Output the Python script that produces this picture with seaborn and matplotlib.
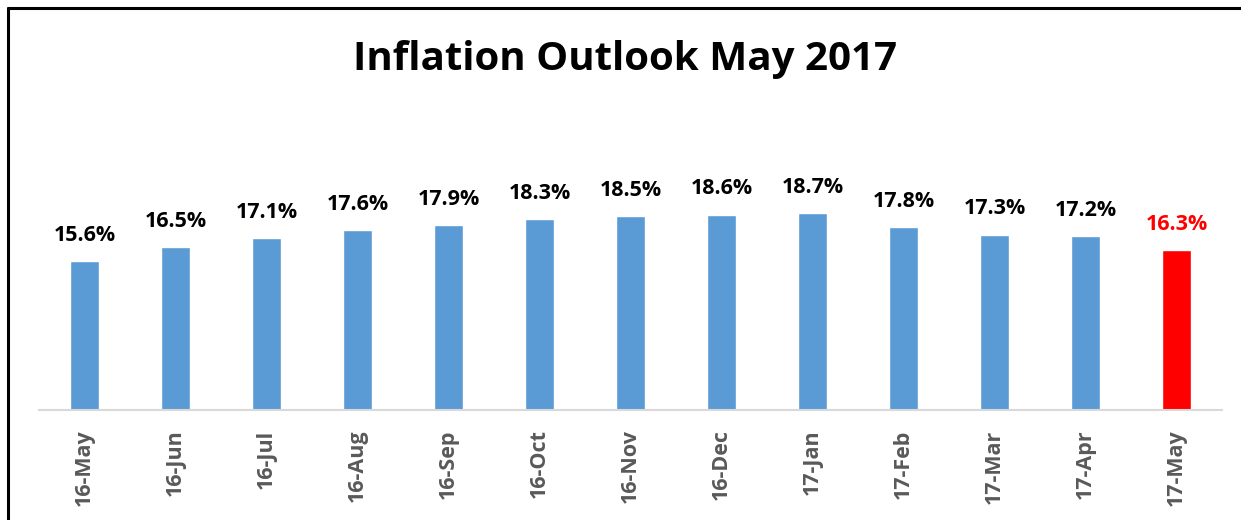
import pandas as pd
import matplotlib.pyplot as plt
import seaborn as sns
from matplotlib.lines import Line2D

months = ['16-May', '16-Jun', '16-Jul', '16-Aug', '16-Sep', '16-Oct', '16-Nov',
          '16-Dec', '17-Jan', '17-Feb', '17-Mar', '17-Apr', '17-May']
inflation = [15.6, 16.5, 17.1, 17.6, 17.9, 18.3, 18.5, 18.6, 18.7, 17.8, 17.3, 17.2, 16.3]

df = pd.DataFrame({'month': months, 'inflation': inflation})

sns.set_style('white')
plt.rcParams['font.family'] = ['Open Sans', 'DejaVu Sans']

blue = '#5B9BD5'
red = '#FF0000'
colors = [blue] * (len(months) - 1) + [red]

fig = plt.figure(figsize=(12.41, 5.2), dpi=100)
ax = fig.add_axes([0.0314, 0.2115, 0.9533, 0.537])

sns.barplot(data=df, x='month', y='inflation', hue='month', palette=colors,
            legend=False, width=0.32, ax=ax, saturation=1)

ax.set_ylim(6, 24)
ax.set_xlim(-0.5, len(months) - 0.5)
ax.set_xlabel('')
ax.set_ylabel('')
ax.set_yticks([])
for s in ['top', 'right', 'left']:
    ax.spines[s].set_visible(False)
ax.spines['bottom'].set_color('#D9D9D9')
ax.spines['bottom'].set_linewidth(1.5)
ax.tick_params(axis='x', length=0, pad=14)
plt.setp(ax.get_xticklabels(), rotation=90, fontsize=15.5, fontweight='bold', color='#595959')

for i, cont in enumerate(ax.containers):
    c = red if i == len(ax.containers) - 1 else 'black'
    ax.bar_label(cont, fmt='%.1f%%', padding=11, fontsize=15.5, fontweight='bold', color=c)

fig.text(0.504, 0.885, 'Inflation Outlook May 2017', ha='center', va='center',
         fontsize=29, fontweight='bold', color='black')

# outer frame (left and top edges)
fig.add_artist(Line2D([8 / 1241, 8 / 1241], [0, 1 - 8 / 520], color='black', lw=2.2))
fig.add_artist(Line2D([8 / 1241, 1], [1 - 8 / 520, 1 - 8 / 520], color='black', lw=2.2))

fig.savefig('out.png', dpi=100)
